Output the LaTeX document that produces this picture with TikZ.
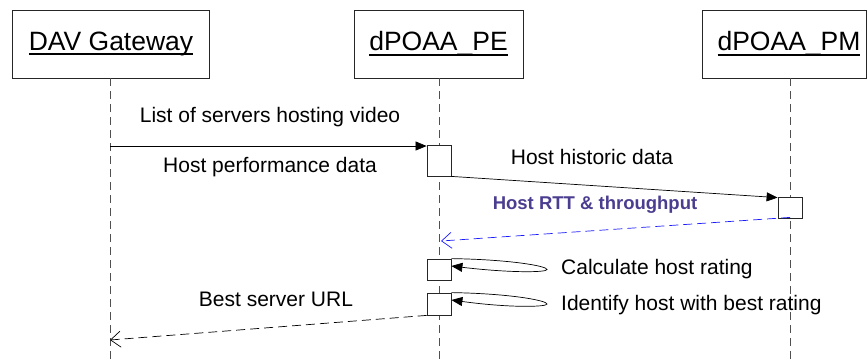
\documentclass[tikz,border=0pt]{standalone}
\usepackage{fontspec}
\setmainfont{Liberation Sans}
\usetikzlibrary{arrows.meta}
\definecolor{lifegray}{HTML}{505050}
\definecolor{rttpurple}{HTML}{4B3D8F}
\definecolor{retblue}{HTML}{1A1AFF}
\newsavebox\myulbox
\newcommand{\myul}[1]{\sbox\myulbox{#1}\rlap{\rule[-0.18em]{\wd\myulbox}{0.07em}}\usebox\myulbox}
\begin{document}
\begin{tikzpicture}[x=1pt,y=-1pt,
  obj/.style={draw=black!85, line width=0.8pt, minimum height=68pt, inner sep=0pt},
  objtext/.style={font=\fontsize{26.5}{30}\selectfont, inner sep=0pt},
  life/.style={draw=lifegray, dash pattern=on 8pt off 5pt, line width=0.9pt},
  act/.style={draw=black!85, fill=white, line width=0.8pt, minimum width=24pt, inner sep=0pt},
  msgtext/.style={font=\fontsize{21}{24}\selectfont, inner sep=0pt},
  call/.style={draw=black, line width=0.7pt, -{Triangle[length=11pt,width=9pt]}},
  ret/.style={line width=0.7pt, dash pattern=on 9pt off 5pt, -{Straight Barb[length=10pt,width=16pt,line width=0.7pt]}},
]
\useasboundingbox (0,0) rectangle (867,360);
% objects
\node[obj, minimum width=197pt] (dav) at (110.5,44) {};
\node[objtext] (davt) at (111,44) {\myul{DAV Gateway}};
\node[obj, minimum width=169pt] (pe) at (438.5,44) {};
\node[objtext] (pet) at (438.5,44) {\myul{dPOAA\_PE}};
\node[obj, minimum width=164pt] (pm) at (784,44) {};
\node[objtext] (pmt) at (789,44) {\myul{dPOAA\_PM}};
% lifelines
\coordinate (davl) at (110,78);
\coordinate (davb) at (110,360);
\coordinate (pel) at (439,78);
\coordinate (peb) at (439,360);
\coordinate (pml) at (790,78);
\coordinate (pmb) at (790,360);
\draw[life] (davl) -- (davb);
\draw[life] (pel) -- (peb);
\draw[life] (pml) -- (pmb);
% activations
\node[act, minimum height=31pt] (a1) at (439,160.5) {};
\node[act, minimum height=21pt] (a2) at (790,207.5) {};
\node[act, minimum height=21pt] (a3) at (439,269.5) {};
\node[act, minimum height=22pt] (a4) at (439,304) {};
% message 1
\coordinate (m1s) at (110,146);
\draw[call] (m1s) -- (a1.west |- m1s);
\node[msgtext] (t1) at (270,117) {List of servers hosting video};
\node[msgtext] (t2) at (270,167) {Host performance data};
% message 2
\draw[call] (a1.south east) -- ([yshift=-1pt]a2.north west);
\node[msgtext] (t3) at (592,157) {Host historic data};
% message 3 return
\coordinate (m3e) at (441,241);
\draw[ret, draw=retblue] ([yshift=1pt]a2.south -| pml) -- (m3e);
\node[font=\fontsize{18.5}{21}\selectfont\bfseries, text=rttpurple, inner sep=0pt] (t4) at (595,205) {Host RTT \& throughput};
% self calls
\draw[call] (a3.north east) .. controls (510,259.5) and (547,266) .. (547,269.5)
   .. controls (547,272.5) and (510,273) .. ([yshift=3.5pt]a3.east);
\node[msgtext, anchor=west] (t5) at (561,269.5) {Calculate host rating};
\draw[call] (a4.north east) .. controls (510,293.5) and (547,300.5) .. (547,304)
   .. controls (547,307) and (510,308) .. ([yshift=4pt]a4.east);
\node[msgtext, anchor=west] (t6) at (561,305) {Identify host with best rating};
% return to gateway
\coordinate (m6e) at (110,340);
\draw[ret, draw=black] (a4.south west) -- (m6e);
\node[msgtext] (t7) at (276,299) {Best server URL};
\end{tikzpicture}
\end{document}
